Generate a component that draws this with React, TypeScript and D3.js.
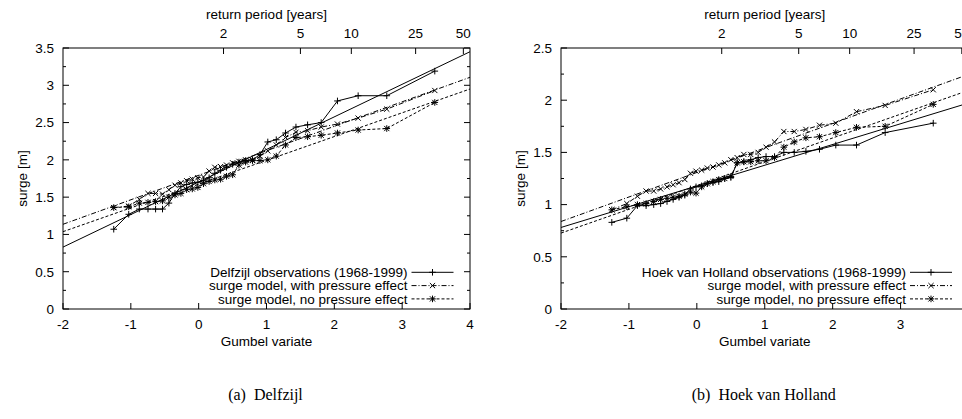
import React from "react";
import * as d3 from "d3";

// Gumbel plotting positions (reduced variate) of the 32 annual maxima
const gumbelX = [-1.252, -1.031, -0.875, -0.747, -0.635, -0.533, -0.439, -0.349, -0.262, -0.177, -0.094, -0.012, 0.071, 0.154, 0.238, 0.323, 0.411, 0.501, 0.594, 0.692, 0.794, 0.903, 1.019, 1.144, 1.281, 1.434, 1.606, 1.806, 2.046, 2.351, 2.773, 3.481];

const delfObs = [1.07, 1.27, 1.34, 1.34, 1.34, 1.34, 1.42, 1.55, 1.64, 1.67, 1.69, 1.70, 1.72, 1.76, 1.82, 1.86, 1.90, 1.94, 1.97, 1.99, 2.00, 2.07, 2.24, 2.27, 2.36, 2.44, 2.47, 2.50, 2.79, 2.86, 2.86, 3.19];
const delfWithP = [1.36, 1.38, 1.47, 1.55, 1.55, 1.54, 1.60, 1.66, 1.69, 1.72, 1.74, 1.76, 1.77, 1.85, 1.90, 1.91, 1.93, 1.96, 1.98, 2.00, 2.00, 2.05, 2.12, 2.20, 2.30, 2.37, 2.39, 2.44, 2.48, 2.56, 2.68, 2.93];
const delfNoP = [1.36, 1.37, 1.42, 1.43, 1.44, 1.45, 1.50, 1.53, 1.55, 1.60, 1.61, 1.63, 1.68, 1.71, 1.73, 1.74, 1.78, 1.80, 1.93, 1.97, 1.99, 1.99, 2.00, 2.05, 2.20, 2.30, 2.31, 2.33, 2.36, 2.40, 2.42, 2.77];

const hoekObs = [0.83, 0.87, 0.99, 0.99, 1.00, 1.01, 1.03, 1.05, 1.07, 1.09, 1.15, 1.17, 1.18, 1.20, 1.21, 1.22, 1.25, 1.26, 1.40, 1.41, 1.43, 1.45, 1.46, 1.46, 1.50, 1.50, 1.51, 1.53, 1.57, 1.57, 1.69, 1.78];
const hoekWithP = [0.95, 1.01, 1.08, 1.13, 1.13, 1.15, 1.17, 1.19, 1.21, 1.24, 1.30, 1.32, 1.33, 1.35, 1.36, 1.38, 1.40, 1.43, 1.45, 1.48, 1.48, 1.50, 1.55, 1.60, 1.70, 1.70, 1.72, 1.76, 1.78, 1.89, 1.95, 2.10];
const hoekNoP = [0.95, 0.98, 1.00, 1.01, 1.03, 1.05, 1.06, 1.07, 1.08, 1.10, 1.12, 1.11, 1.17, 1.20, 1.22, 1.24, 1.25, 1.27, 1.40, 1.41, 1.41, 1.42, 1.42, 1.45, 1.55, 1.60, 1.64, 1.65, 1.69, 1.74, 1.75, 1.96];

// Fitted Gumbel lines, values at x = -2 and x = 4
const fitX = [-2, 4];
const delfFitObs = [0.83, 3.45];
const delfFitWithP = [1.136, 3.107];
const delfFitNoP = [1.037, 2.95];
const hoekFitObs = [0.781, 1.973];
const hoekFitWithP = [0.838, 2.247];
const hoekFitNoP = [0.727, 2.094];

const delfXTicks = [-2, -1, 0, 1, 2, 3, 4];
const hoekXTicks = [-2, -1, 0, 1, 2, 3];
const returnPeriods = [2, 5, 10, 25, 50];
const delfYTicks = [0, 0.5, 1, 1.5, 2, 2.5, 3, 3.5];
const hoekYTicks = [0, 0.5, 1, 1.5, 2, 2.5];

const legendLabels = {
  delf: ["Delfzijl observations (1968-1999)", "surge model, with pressure effect", "surge model, no pressure effect"],
  hoek: ["Hoek van Holland observations (1968-1999)", "surge model, with pressure effect", "surge model, no pressure effect"],
};

const FONT = "'Liberation Sans', Arial, Helvetica, sans-serif";
const FS = 13.5;
const DASHDOT = "5,2,1,2";
const DASHED = "3,2";

type Marker = "plus" | "cross" | "star";

function markerPath(kind: Marker, x: number, y: number): string {
  const s = 3.3;
  const c = 2.6;
  if (kind === "plus") return `M${x - s},${y}h${2 * s}M${x},${y - s}v${2 * s}`;
  if (kind === "cross") return `M${x - c},${y - c}l${2 * c},${2 * c}M${x - c},${y + c}l${2 * c},${-2 * c}`;
  return `M${x - s},${y}h${2 * s}M${x},${y - s}v${2 * s}M${x - c},${y - c}l${2 * c},${2 * c}M${x - c},${y + c}l${2 * c},${-2 * c}`;
}

function gumbelOfT(T: number) {
  return -Math.log(-Math.log(1 - 1 / T));
}

type PanelProps = {
  x0: number;
  x1: number;
  yMax: number;
  xTicks: number[];
  yTicks: number[];
  series: number[][];
  fits: number[][];
  labels: string[];
  caption: string;
};

function Panel({ x0, x1, yMax, xTicks, yTicks, series, fits, labels, caption }: PanelProps) {
  const top = 48;
  const bottom = 309;
  const x = d3.scaleLinear().domain([-2, 4]).range([x0, x1]);
  const y = d3.scaleLinear().domain([0, yMax]).range([bottom, top]);
  const line = d3.line<[number, number]>().x((d) => x(d[0])).y((d) => y(d[1]));
  const styles = [
    { dash: undefined as string | undefined, marker: "plus" as Marker },
    { dash: DASHDOT, marker: "cross" as Marker },
    { dash: DASHED, marker: "star" as Marker },
  ];
  const minorTicks = d3.range(0, yMax + 0.001, 0.25).filter((v) => Math.abs((v * 2) % 1) > 0.01);
  const cx = (x0 + x1) / 2;
  const legendRight = x1 - 16.5;
  const sampleW = 42;
  const legendRows = [272.3, 285.6, 298.9];
  return (
    <g>
      {fits.map((f, i) => (
        <path key={"fit" + i} d={line(fitX.map((v, j) => [v, f[j]]) as [number, number][]) || ""} fill="none" stroke="#000" strokeWidth={1} strokeDasharray={styles[i].dash} />
      ))}
      {series.map((s, i) => (
        <g key={"s" + i}>
          <path d={line(gumbelX.map((v, j) => [v, s[j]]) as [number, number][]) || ""} fill="none" stroke="#000" strokeWidth={1} strokeDasharray={styles[i].dash} />
          <path d={gumbelX.map((v, j) => markerPath(styles[i].marker, x(v), y(s[j]))).join("")} fill="none" stroke="#000" strokeWidth={1} />
        </g>
      ))}
      <rect x={x0} y={top} width={x1 - x0} height={bottom - top} fill="none" stroke="#000" strokeWidth={1} />
      {yTicks.map((v) => (
        <g key={"yt" + v}>
          <line x1={x0} x2={x0 + 6} y1={y(v)} y2={y(v)} stroke="#000" />
          <line x1={x1} x2={x1 - 6} y1={y(v)} y2={y(v)} stroke="#000" />
          <text x={x0 - 9} y={y(v) + 4.8} textAnchor="end" fontFamily={FONT} fontSize={FS}>{String(v)}</text>
        </g>
      ))}
      {minorTicks.map((v) => (
        <g key={"ym" + v}>
          <line x1={x0} x2={x0 + 3} y1={y(v)} y2={y(v)} stroke="#000" />
          <line x1={x1} x2={x1 - 3} y1={y(v)} y2={y(v)} stroke="#000" />
        </g>
      ))}
      {xTicks.map((v) => (
        <g key={"xt" + v}>
          <line x1={x(v)} x2={x(v)} y1={bottom} y2={bottom - 6} stroke="#000" />
          <text x={x(v)} y={328.5} textAnchor="middle" fontFamily={FONT} fontSize={FS}>{String(v)}</text>
        </g>
      ))}
      {returnPeriods.map((T) => (
        <g key={"rp" + T}>
          <line x1={x(gumbelOfT(T))} x2={x(gumbelOfT(T))} y1={top} y2={top + 6} stroke="#000" />
          <text x={x(gumbelOfT(T))} y={37.8} textAnchor="middle" fontFamily={FONT} fontSize={FS}>{String(T)}</text>
        </g>
      ))}
      <text x={cx} y={19.3} textAnchor="middle" fontFamily={FONT} fontSize={FS}>return period [years]</text>
      <text x={cx} y={346.3} textAnchor="middle" fontFamily={FONT} fontSize={FS}>Gumbel variate</text>
      <text transform={`translate(${x0 - 36.5},${(top + bottom) / 2}) rotate(-90)`} textAnchor="middle" fontFamily={FONT} fontSize={FS}>surge [m]</text>
      {labels.map((lab, i) => (
        <g key={"lg" + i}>
          <text x={legendRight - sampleW - 4} y={legendRows[i] + 4.6} textAnchor="end" fontFamily={FONT} fontSize={FS}>{lab}</text>
          <line x1={legendRight - sampleW} x2={legendRight} y1={legendRows[i]} y2={legendRows[i]} stroke="#000" strokeDasharray={styles[i].dash} />
          <path d={markerPath(styles[i].marker, legendRight - sampleW / 2, legendRows[i])} stroke="#000" fill="none" />
        </g>
      ))}
      <text x={cx - 1} y={400} textAnchor="middle" fontFamily="'Liberation Serif', 'Times New Roman', serif" fontSize={16}>{caption}</text>
    </g>
  );
}

export default function App() {
  return (
    <svg width={962} height={419} viewBox="0 0 962 419" style={{ position: "fixed", left: 0, top: 0, background: "#fff" }}>
      <rect x={0} y={0} width={962} height={419} fill="#fff" />
      <Panel x0={63} x1={470} yMax={3.5} xTicks={delfXTicks} yTicks={delfYTicks} series={[delfObs, delfWithP, delfNoP]} fits={[delfFitObs, delfFitWithP, delfFitNoP]} labels={legendLabels.delf} caption={"(a)\u2002Delfzijl"} />
      <Panel x0={561} x1={968.5} yMax={2.5} xTicks={hoekXTicks} yTicks={hoekYTicks} series={[hoekObs, hoekWithP, hoekNoP]} fits={[hoekFitObs, hoekFitWithP, hoekFitNoP]} labels={legendLabels.hoek} caption={"(b)\u2002Hoek van Holland"} />
    </svg>
  );
}
